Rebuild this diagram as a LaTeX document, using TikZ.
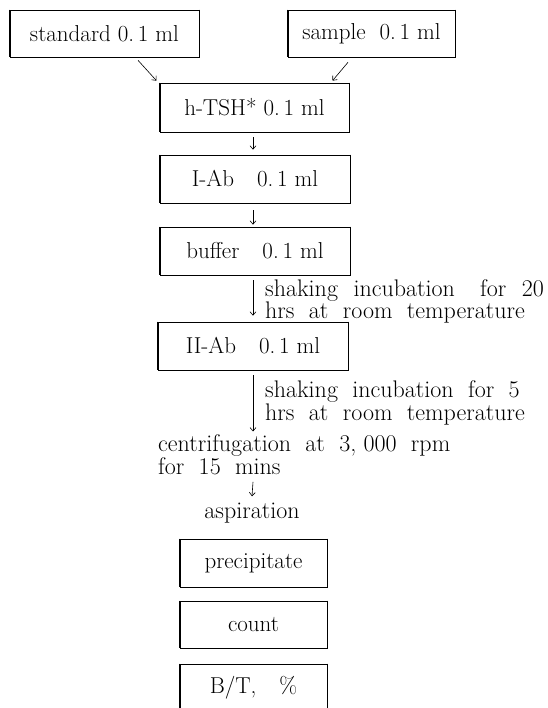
\documentclass[tikz,border=0pt]{standalone}
\usetikzlibrary{arrows.meta}
% wide word space of the free-standing notes
\newcommand\wsp{\hspace{0.6em}}
\tikzset{
  stage/.style={draw, line width=0.6pt, inner sep=0pt, minimum height=48pt},
  flow/.style={line width=0.6pt, -{Straight Barb[length=3.5pt,width=6pt]}},
  note/.style={inner sep=0pt, align=left, font=\fontsize{24}{19}\selectfont},
}
\begin{document}
\begin{tikzpicture}[x=1pt, y=-1pt, font=\fontsize{23}{27}\selectfont]
\useasboundingbox (0,0) rectangle (547,708);

% sample boxes
\node[stage, minimum width=189pt, minimum height=47pt] (std) at (104.5,33.5) {standard 0.\,1 ml};
\node[stage, minimum width=167pt, minimum height=47pt] (smp) at (371.5,33.5) {sample\hspace{0.6em}0.\,1 ml};
\node[stage, minimum width=189pt, minimum height=49pt] (tsh) at (254.5,107.5) {h-TSH* 0.\,1 ml};
\node[stage, minimum width=190pt] (iab) at (255,179) {I-Ab\quad 0.\,1 ml};
\node[stage, minimum width=190pt] (buf) at (255,251) {buffer\quad 0.\,1 ml};
\node[stage, minimum width=190pt] (iiab) at (253,346) {II-Ab\quad 0.\,1 ml};

% incubation notes
\node[note, anchor=north west] (inc1) at (265,279)
  {shaking\hspace{0.65em}incubation\hspace{1.05em}for\hspace{0.65em}20\\hrs\wsp at\wsp room\wsp temperature};
\node[note, anchor=north west] (inc2) at (265,380.5)
  {shaking\wsp incubation\wsp for\wsp 5\\hrs\wsp at\wsp room\wsp temperature};
\node[note, anchor=north west] (cen) at (158,434.5)
  {centrifugation\wsp at\wsp 3,\hspace{0.3em}000\wsp rpm\\for\wsp 15\wsp mins};
\node[note, anchor=base] (asp) at (252,518) {aspiration};

% result boxes
\node[stage, minimum width=147pt] (prec) at (253.5,563) {precipitate};
\node[stage, minimum width=147pt, minimum height=47pt] (cnt) at (253.5,624.5) {count};
\node[stage, minimum width=147pt] (bt) at (253.5,688) {B/T,\quad \%};

% heavier vertical sides of the boxes
\foreach \n in {std,smp,tsh,iab,buf,iiab,prec,cnt,bt}
  \draw[line width=1.3pt] (\n.north west) -- (\n.south west)
                          (\n.north east) -- (\n.south east);

% connectors
\draw[flow] ([xshift=33.5pt,yshift=-3pt]std.south) -- ([xshift=-98pt,yshift=2pt]tsh.north);
\draw[flow] ([xshift=-23.5pt,yshift=-5pt]smp.south) -- ([xshift=78pt,yshift=2pt]tsh.north);
\draw[flow] ([xshift=-1.5pt,yshift=-5pt]tsh.south) -- ([xshift=-2pt,yshift=5pt]iab.north);
\draw[flow] ([xshift=-2pt,yshift=-7pt]iab.south) -- ([xshift=-2pt,yshift=2pt]buf.north);
\draw[flow] ([xshift=-2pt,yshift=-5pt]buf.south) -- ([yshift=6pt]iiab.north);
\draw[flow] ([yshift=-5pt]iiab.south) -- ([xshift=95pt,yshift=3pt]cen.north west);
\draw[flow] ([xshift=95pt,yshift=-7pt]cen.south west) -- ([yshift=6pt]asp.north);
\end{tikzpicture}
\end{document}
